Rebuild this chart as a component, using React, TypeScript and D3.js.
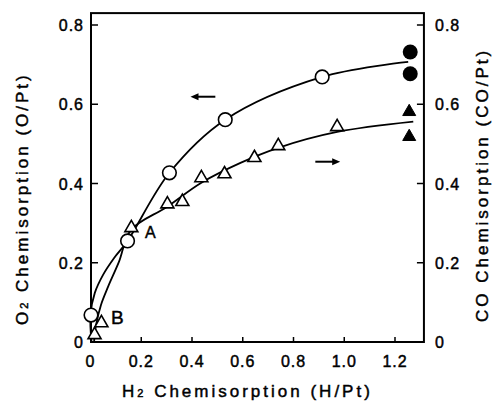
import React from "react";
import * as d3 from "d3";

// ---- data ----
const xTicks = [0, 0.2, 0.4, 0.6, 0.8, 1.0, 1.2];
const xTickLabels = ["0", "0.2", "0.4", "0.6", "0.8", "1.0", "1.2"];
const yTicks = [0, 0.2, 0.4, 0.6, 0.8];
const yTickLabels = ["0", "0.2", "0.4", "0.6", "0.8"];

// O2 chemisorption (open circles, left axis)
const o2H = [0.002, 0.146, 0.311, 0.531, 0.913];
const o2O = [0.068, 0.255, 0.427, 0.561, 0.669];
// filled circles
const o2FilledH = [1.26, 1.26];
const o2FilledO = [0.732, 0.677];
// smooth fitted curve through O2 data
const o2CurveH = [0.004, 0.0, 0.017, 0.05, 0.093, 0.146, 0.311, 0.531, 0.913, 1.252];
const o2CurveO = [0.0, 0.07, 0.124, 0.17, 0.212, 0.255, 0.427, 0.561, 0.669, 0.707];

// CO chemisorption (open triangles, right axis)
const coH = [0.016, 0.043, 0.161, 0.303, 0.362, 0.437, 0.528, 0.646, 0.74, 0.972];
const coCO = [0.018, 0.048, 0.288, 0.348, 0.354, 0.414, 0.424, 0.465, 0.495, 0.543];
const coFilledH = [1.256, 1.256];
const coFilledCO = [0.581, 0.518];
const coCurveH = [0.014, 0.022, 0.041, 0.069, 0.112, 0.16, 0.301, 0.437, 0.591, 0.74, 0.972, 1.272];
const coCurveCO = [0.0, 0.043, 0.093, 0.139, 0.202, 0.283, 0.341, 0.402, 0.452, 0.49, 0.53, 0.556];

// annotations
const labelA = { h: 0.236, v: 0.278, t: "A" };
const labelB = { h: 0.106, v: 0.063, t: "B" };
const arrowLeft = { from: 0.492, to: 0.394, v: 0.619 };
const arrowRight = { from: 0.886, to: 0.984, v: 0.455 };

const W = 493;
const H = 401;
const FONT = "'Liberation Sans', Arial, Helvetica, sans-serif";

export default function App() {
  const x = d3.scaleLinear().domain([0, 1.2]).range([90.5, 395]);
  const y = d3.scaleLinear().domain([0, 0.8]).range([342, 25]);
  const yR = d3.scaleLinear().domain([0, 0.8]).range([342, 25]);

  const left = 91;
  const right = x(1.314);
  const top = y(0.83);
  const bottom = 342;

  const line = d3
    .line<[number, number]>()
    .x((d) => d[0])
    .y((d) => d[1])
    .curve(d3.curveCatmullRom.alpha(0.5));

  const o2Path = line(o2CurveH.map((h, i) => [x(h), y(o2CurveO[i])]));
  const coPath = line(coCurveH.map((h, i) => [x(h), yR(coCurveCO[i])]));

  const tri = (cx: number, cy: number, s: number) => {
    const h = (s * Math.sqrt(3)) / 2;
    return `M${cx},${cy - (2 * h) / 3} L${cx + s / 2},${cy + h / 3} L${cx - s / 2},${cy + h / 3} Z`;
  };

  const arrow = (a: { from: number; to: number; v: number }) => {
    const x1 = x(a.from);
    const x2 = x(a.to);
    const yy = y(a.v);
    const dir = Math.sign(x2 - x1);
    const headL = 8;
    const headW = 3.5;
    return (
      <g>
        <line x1={x1} y1={yy} x2={x2 - dir * headL * 0.6} y2={yy} stroke="#000" strokeWidth={2} />
        <path
          d={`M${x2},${yy} L${x2 - dir * headL},${yy - headW} L${x2 - dir * headL},${yy + headW} Z`}
          fill="#000"
        />
      </g>
    );
  };

  const textStyle = { fontFamily: FONT, fill: "#000", stroke: "#000", strokeWidth: 0.45 } as const;

  return (
    <svg width={W} height={H} style={{ position: "absolute", left: 0, top: 0, background: "#fff" }}>
      <rect x={0} y={0} width={W} height={H} fill="#fff" />
      {/* frame */}
      <rect x={left} y={top} width={right - left} height={bottom - top} fill="none" stroke="#000" strokeWidth={2} />

      {/* x ticks */}
      {xTicks.map((t, i) => (
        <g key={"xt" + i}>
          {i > 0 && <line x1={x(t)} x2={x(t)} y1={bottom} y2={bottom - 5} stroke="#000" strokeWidth={1.5} />}
          <text x={x(t)} y={367} textAnchor="middle" fontSize={16} letterSpacing={1} style={textStyle}>
            {xTickLabels[i]}
          </text>
        </g>
      ))}

      {/* left y ticks */}
      {yTicks.map((t, i) => (
        <g key={"yl" + i}>
          {i > 0 && <line x1={left} x2={left + 7} y1={y(t)} y2={y(t)} stroke="#000" strokeWidth={1.5} />}
          <text x={84} y={y(t) + 6} textAnchor="end" fontSize={16} letterSpacing={1} style={textStyle}>
            {yTickLabels[i]}
          </text>
        </g>
      ))}

      {/* right y ticks */}
      {yTicks.map((t, i) => (
        <g key={"yr" + i}>
          {i > 0 && <line x1={right} x2={right - 7} y1={yR(t)} y2={yR(t)} stroke="#000" strokeWidth={1.5} />}
          <text x={435} y={yR(t) + 6} textAnchor="start" fontSize={16} letterSpacing={1} style={textStyle}>
            {yTickLabels[i]}
          </text>
        </g>
      ))}

      {/* axis titles */}
      <text x={122} y={397} fontSize={17} letterSpacing={3} style={textStyle}>
        H<tspan fontSize={11}>2</tspan> Chemisorption (H/Pt)
      </text>
      <text transform={`translate(28,325) rotate(-90)`} fontSize={17} letterSpacing={3} style={textStyle}>
        O<tspan fontSize={11}>2</tspan> Chemisorption (O/Pt)
      </text>
      <text transform={`translate(488,322) rotate(-90)`} fontSize={17} letterSpacing={3} style={textStyle}>
        CO Chemisorption (CO/Pt)
      </text>

      {/* curves */}
      <path d={o2Path || ""} fill="none" stroke="#000" strokeWidth={1.8} />
      <path d={coPath || ""} fill="none" stroke="#000" strokeWidth={1.8} />

      {/* CO triangles */}
      {coH.map((h, i) => (
        <path key={"ct" + i} d={tri(x(h), yR(coCO[i]), 13)} fill="#fff" stroke="#000" strokeWidth={1.6} />
      ))}
      {coFilledH.map((h, i) => (
        <path key={"cf" + i} d={tri(x(h), yR(coFilledCO[i]), 13)} fill="#000" stroke="#000" strokeWidth={1} />
      ))}

      {/* O2 circles */}
      {o2H.map((h, i) => (
        <circle key={"oc" + i} cx={x(h)} cy={y(o2O[i])} r={6.8} fill="#fff" stroke="#000" strokeWidth={1.6} />
      ))}
      {o2FilledH.map((h, i) => (
        <circle key={"of" + i} cx={x(h)} cy={y(o2FilledO[i])} r={7.5} fill="#000" />
      ))}

      {/* annotations */}
      <text x={x(labelA.h)} y={y(labelA.v) + 6} textAnchor="middle" fontSize={16} style={textStyle}>
        {labelA.t}
      </text>
      <text x={x(labelB.h)} y={y(labelB.v) + 7} textAnchor="middle" fontSize={19} style={textStyle}>
        {labelB.t}
      </text>
      {arrow(arrowLeft)}
      {arrow(arrowRight)}
    </svg>
  );
}
